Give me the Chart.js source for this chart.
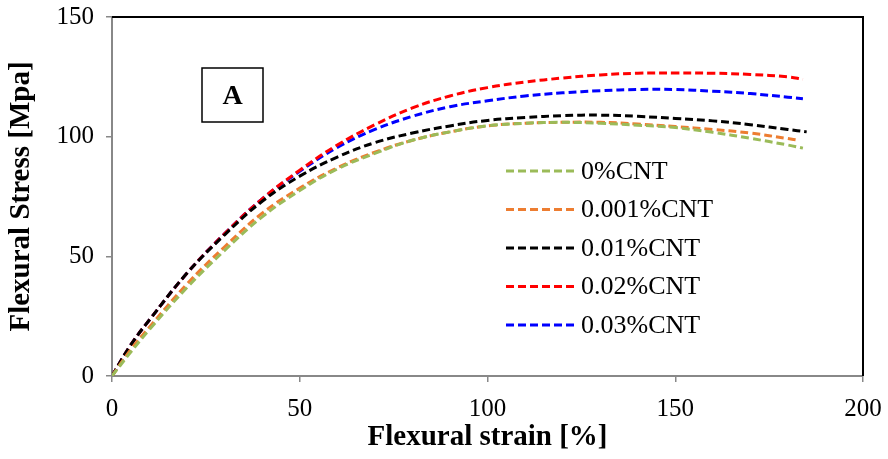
<!DOCTYPE html>
<html>
<head>
<meta charset="utf-8">
<script src="https://cdn.jsdelivr.net/npm/chart.js@4"></script>
<style>
  html, body { margin: 0; padding: 0; background: #fff; }
  #wrap { width: 888px; height: 459px; }
</style>
</head>
<body>
<div id="wrap"><canvas id="stressGraf"></canvas></div>
<script>
var labels = ["0%CNT", "0.001%CNT", "0.01%CNT", "0.02%CNT", "0.03%CNT"];
var colors = ["#9BBB59", "#ED7D31", "#000000", "#FF0000", "#0000FF"];

// strain [%]
var strain0 = [0, 5, 10, 20, 30, 40, 50, 60, 70, 80, 90, 100, 110, 120, 130, 140, 150, 160, 170, 180, 184];
var strain001 = [0, 5, 10, 20, 30, 40, 50, 60, 70, 80, 90, 100, 110, 120, 130, 140, 150, 160, 170, 180, 183];
var strain01 = [0, 5, 10, 20, 30, 40, 50, 60, 70, 80, 90, 100, 110, 120, 130, 140, 150, 160, 170, 180, 185];
var strain02 = [0, 5, 10, 20, 30, 40, 50, 60, 70, 80, 90, 100, 110, 120, 130, 140, 150, 160, 170, 180, 184];
var strain03 = [0, 5, 10, 20, 30, 40, 50, 60, 70, 80, 90, 100, 110, 120, 130, 140, 150, 160, 170, 180, 184];

// stress [Mpa]
var stress0 = [0, 10, 19.5, 37, 52.5, 66.5, 77.5, 86.5, 93, 98.5, 102, 104.5, 105.6, 106, 105.6, 104.8, 103.8, 101.8, 99.3, 96.5, 95.2];
var stress001 = [0, 11, 20.5, 38.5, 54, 68, 78.5, 87, 93.5, 98.5, 102, 104.5, 105.6, 106, 106, 105.3, 104.2, 103, 101.5, 99.2, 98.5];
var stress01 = [0, 13, 23.5, 43, 59, 73, 83.5, 91.5, 97.5, 101.5, 104.5, 106.8, 108, 108.8, 109, 108.5, 107.6, 106.6, 105, 103, 102];
var stress02 = [0, 13, 23.5, 43, 59.5, 74, 86, 96.5, 105, 112, 117, 120.5, 122.8, 124.5, 125.8, 126.5, 126.6, 126.5, 126, 125, 124];
var stress03 = [0, 13, 23.5, 43, 59.5, 74, 85.5, 95.5, 103, 108.5, 112.5, 115, 117, 118.3, 119.2, 119.7, 119.7, 119, 118, 116.5, 115.8];

var allStrain = [strain0, strain001, strain01, strain02, strain03];
var allStress = [stress0, stress001, stress01, stress02, stress03];

var serif = "'Liberation Serif', 'Times New Roman', serif";

function toPoints(xs, ys) {
    var pts = [];
    for (var i = 0; i < xs.length; i++) {
        pts.push({x: xs[i], y: ys[i]});
    }
    return pts;
}

var datasets = [];
for (var k = 0; k < labels.length; k++) {
    datasets.push({
        label: labels[k],
        data: toPoints(allStrain[k], allStress[k]),
        borderColor: colors[k],
        backgroundColor: colors[k],
        borderWidth: 3,
        borderDash: [8, 4],
        pointRadius: 0,
        showLine: true,
        tension: 0.4,
        fill: false
    });
}

// frame, box "A" and the legend inside the plot
var extras = {
    id: 'extras',
    afterDatasetsDraw: function (chart) {
        var ctx = chart.ctx;
        var a = chart.chartArea;
        ctx.save();
        ctx.strokeStyle = '#000';
        ctx.lineWidth = 2;
        ctx.beginPath();
        ctx.moveTo(a.left, a.top);
        ctx.lineTo(a.right, a.top);
        ctx.lineTo(a.right, a.bottom);
        ctx.stroke();

        ctx.lineWidth = 1.5;
        ctx.strokeRect(202, 68, 61, 54);
        ctx.fillStyle = '#000';
        ctx.font = "bold 28px " + serif;
        ctx.textAlign = 'center';
        ctx.textBaseline = 'middle';
        ctx.fillText('A', 232.5, 97);

        ctx.textAlign = 'left';
        ctx.font = "26px " + serif;
        chart.data.datasets.forEach(function (ds, i) {
            var y = 171 + i * 38.5;
            ctx.strokeStyle = ds.borderColor;
            ctx.lineWidth = 3;
            ctx.setLineDash([8, 4]);
            ctx.beginPath();
            ctx.moveTo(506, y);
            ctx.lineTo(574, y);
            ctx.stroke();
            ctx.setLineDash([]);
            ctx.fillStyle = '#000';
            ctx.fillText(ds.label, 581, y + 1);
        });
        ctx.restore();
    }
};

new Chart(document.getElementById('stressGraf').getContext('2d'), {
    type: 'scatter',
    data: {datasets: datasets},
    options: {
        responsive: true,
        maintainAspectRatio: false,
        animation: false,
        layout: {padding: {left: 0, right: 25, top: 17, bottom: 0}},
        plugins: {legend: {display: false}, tooltip: {enabled: false}},
        scales: {
            x: {
                type: 'linear',
                min: 0,
                max: 200,
                afterFit: function (s) {
                    s.height = 83;
                    s.paddingLeft = 0;
                    s.paddingRight = 0;
                },
                ticks: {stepSize: 50, color: '#000', font: {family: serif, size: 25}, padding: 12, maxRotation: 0},
                grid: {drawOnChartArea: false, color: '#888', tickLength: 6, lineWidth: 1.5},
                border: {color: '#888', width: 2},
                title: {display: true, text: 'Flexural strain [%]', color: '#000',
                        font: {family: serif, size: 29, weight: 'bold'}, padding: {top: 0}}
            },
            y: {
                min: 0,
                max: 150,
                afterFit: function (s) {
                    s.width = 112;
                    s.paddingTop = 0;
                    s.paddingBottom = 0;
                },
                ticks: {stepSize: 50, color: '#000', font: {family: serif, size: 25}, padding: 12},
                grid: {drawOnChartArea: false, color: '#888', tickLength: 6, lineWidth: 1.5},
                border: {color: '#888', width: 2},
                title: {display: true, text: 'Flexural Stress [Mpa]', color: '#000',
                        font: {family: serif, size: 29, weight: 'bold'}, padding: {bottom: 4}}
            }
        }
    },
    plugins: [extras]
});
</script>
</body>
</html>
